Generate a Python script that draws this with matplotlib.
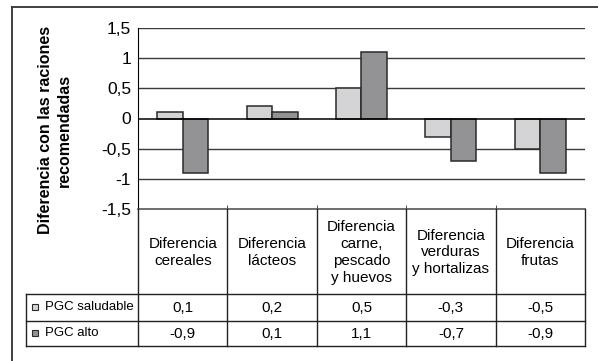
import numpy as np
import matplotlib
matplotlib.use("Agg")
import matplotlib.pyplot as plt
from matplotlib.lines import Line2D
from matplotlib.patches import Rectangle

plt.rcParams["font.family"] = ["Liberation Sans", "DejaVu Sans"]

# data
categories = [
    "Diferencia\ncereales",
    "Diferencia\nlácteos",
    "Diferencia\ncarne,\npescado\ny huevos",
    "Diferencia\nverduras\ny hortalizas",
    "Diferencia\nfrutas",
]
series_names = ["PGC saludable", "PGC alto"]
pgc_saludable = [0.1, 0.2, 0.5, -0.3, -0.5]
pgc_alto = [-0.9, 0.1, 1.1, -0.7, -0.9]
yticks = [-1.5, -1.0, -0.5, 0.0, 0.5, 1.0, 1.5]
ylabel = "Diferencia con las raciones\nrecomendadas"

colors = ["#d4d4d6", "#939396"]
edge = "#2a2a2a"

W, H = 598, 361
fig = plt.figure(figsize=(W / 100, H / 100), dpi=100)

# pixel layout
px_left, px_right = 138, 585
px_top, px_axis_bottom = 28, 209
px_header_bottom, px_row1, px_row2 = 294, 321, 346
px_legend_left = 26


def fx(x):
    return x / W


def fy(y):
    return 1 - y / H


ax = fig.add_axes([fx(px_left), fy(px_axis_bottom), fx(px_right - px_left),
                   (px_axis_bottom - px_top) / H])

n = len(categories)
x = np.arange(n)
bw = 1 / 3.5
ax.bar(x - bw / 2, pgc_saludable, bw, color=colors[0], edgecolor=edge, linewidth=1.1, zorder=3)
ax.bar(x + bw / 2, pgc_alto, bw, color=colors[1], edgecolor=edge, linewidth=1.1, zorder=3)

ax.set_xlim(-0.5, n - 0.5)
ax.set_ylim(-1.5, 1.5)
ax.set_yticks(yticks)
ax.set_yticklabels([("%g" % t).replace(".", ",") for t in yticks], fontsize=12.5)
ax.tick_params(axis="y", length=0, pad=5)
for t in yticks:
    if t == 0:
        ax.axhline(t, color="black", lw=1.1, zorder=4)
    elif t != -1.5:
        ax.axhline(t, color="#3a3a3a", lw=1.0, zorder=1)
ax.set_xticks([])
ax.set_xticks(np.arange(n - 1) + 0.5, minor=True)
ax.tick_params(axis="x", which="minor", direction="in", length=3, color="#333333")
ax.spines["right"].set_visible(False)
ax.spines["left"].set_color("black")
ax.spines["top"].set_visible(False)
ax.spines["bottom"].set_color("#555555")
ax.spines["bottom"].set_linewidth(1.2)

# y axis title
fig.text(fx(55), fy(130), ylabel, rotation=90, ha="center", va="center",
         fontsize=11.5, fontweight="bold", linespacing=1.25)

# data table below the plot
ov = fig.add_axes([0, 0, 1, 1])
ov.set_xlim(0, W)
ov.set_ylim(H, 0)
ov.axis("off")

lc = "#222222"
col_w = (px_right - px_left) / n
col_edges = [px_left + i * col_w for i in range(n + 1)]
for xe in col_edges:
    ov.add_line(Line2D([xe, xe], [px_axis_bottom, px_row2], color=lc, lw=1))
ov.add_line(Line2D([px_legend_left, px_legend_left], [px_header_bottom, px_row2], color=lc, lw=1))
for ye in [px_header_bottom, px_row1, px_row2]:
    ov.add_line(Line2D([px_legend_left, px_right], [ye, ye], color=lc, lw=1))

header_mid = (px_axis_bottom + px_header_bottom) / 2 + 1
for i, cat in enumerate(categories):
    cx = (col_edges[i] + col_edges[i + 1]) / 2
    ov.text(cx, header_mid, cat, ha="center", va="center", fontsize=11, linespacing=1.25)

rows = [(px_header_bottom, px_row1), (px_row1, px_row2)]
for (y0, y1), name, vals, c in zip(rows, series_names, [pgc_saludable, pgc_alto], colors):
    ym = (y0 + y1) / 2
    ov.add_patch(Rectangle((32, ym - 3.5), 6, 6, facecolor=c, edgecolor=edge, lw=0.8))
    ov.text(45, ym, name, ha="left", va="center", fontsize=9.5)
    for i, v in enumerate(vals):
        cx = (col_edges[i] + col_edges[i + 1]) / 2
        ov.text(cx, ym, ("%.1f" % v).replace(".", ","), ha="center", va="center", fontsize=11)

# outer frame (left and top edges visible)
ov.add_line(Line2D([12, 12], [7, H], color="#333333", lw=1.3))
ov.add_line(Line2D([12, W], [7, 7], color="#333333", lw=1.3))

fig.savefig("out.png", dpi=100)
